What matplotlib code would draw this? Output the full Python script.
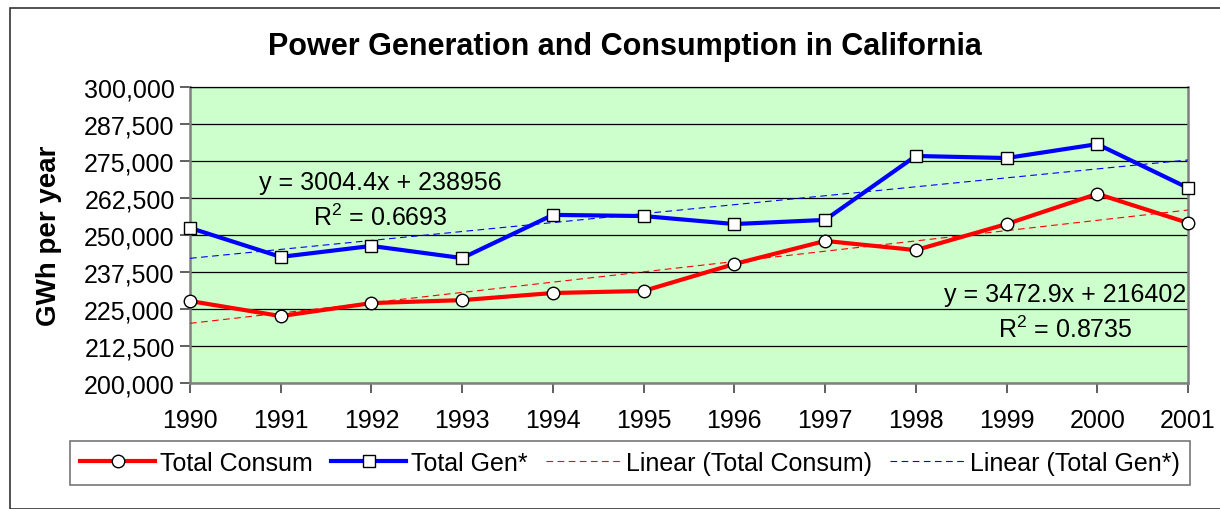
import matplotlib
matplotlib.use("Agg")
import matplotlib.pyplot as plt
import numpy as np
from matplotlib.patches import Rectangle
from matplotlib.ticker import FuncFormatter

years = [1990, 1991, 1992, 1993, 1994, 1995, 1996, 1997, 1998, 1999, 2000, 2001]
total_consum = [227700, 222600, 227000, 228000, 230400, 231100, 240200, 248000, 244900, 253700, 263900, 254100]
total_gen = [252400, 242600, 246300, 242200, 256800, 256400, 253700, 255100, 276700, 276000, 280700, 265900]
yticks = [200000, 212500, 225000, 237500, 250000, 262500, 275000, 287500, 300000]
title = "Power Generation and Consumption in California"
ylabel = "GWh per year"
eq_gen = "y = 3004.4x + 238956"
r2_gen = "R$^2$ = 0.6693"
eq_con = "y = 3472.9x + 216402"
r2_con = "R$^2$ = 0.8735"

plt.rcParams['font.family'] = ['Liberation Sans', 'DejaVu Sans']
plt.rcParams['mathtext.fontset'] = 'custom'
plt.rcParams['mathtext.rm'] = 'Liberation Sans'

fig = plt.figure(figsize=(12.2, 5.1), dpi=100)
fig.patches.append(Rectangle((10/1220, 0), 1.2, 1 - 9/510, transform=fig.transFigure,
                             fill=False, edgecolor='#333333', linewidth=1.2, zorder=0))

ax = fig.add_axes([190/1220, 1 - 384/510, 998/1220, 296/510])
ax.set_facecolor('#CCFFCC')

x = np.array(years)
idx = np.arange(1, len(years) + 1)

# trendlines (Excel-style, x = 1..n)
pc = np.polyfit(idx, total_consum, 1)
pg = np.polyfit(idx, total_gen, 1)

ax.plot(x, total_consum, color='#FF0000', lw=3, marker='o', ms=9, mfc='white',
        mec='black', mew=1.0, clip_on=False, zorder=5, label='Total Consum')
ax.plot(x, total_gen, color='#0000FF', lw=3, marker='s', ms=8.5, mfc='white',
        mec='black', mew=1.0, clip_on=False, zorder=5, label='Total Gen*')
ax.plot(x, np.polyval(pc, idx), color='#FF0000', lw=0.8, ls=(0, (6, 4)),
        label='Linear (Total Consum)', zorder=4)
ax.plot(x, np.polyval(pg, idx), color='#0000FF', lw=0.8, ls=(0, (6, 4)),
        label='Linear (Total Gen*)', zorder=4)

ax.set_xlim(1990, 2001)
ax.set_ylim(200000, 300000)
ax.set_xticks(years)
ax.set_yticks(yticks)
ax.yaxis.set_major_formatter(FuncFormatter(lambda v, p: f"{int(v):,}"))
ax.tick_params(axis='both', labelsize=18, direction='out', length=7, width=1.2, color='#444444')
ax.tick_params(axis='x', pad=11)
ax.tick_params(axis='y', pad=4)
ax.grid(axis='y', color='black', lw=0.9)
ax.set_axisbelow(True)
for s in ['left', 'bottom', 'right']:
    ax.spines[s].set_color('#808080')
    ax.spines[s].set_linewidth(1.8)
ax.spines['top'].set_color('black')
ax.spines['top'].set_linewidth(0.9)

fig.text(49/1220, 1 - 236/510, ylabel, fontsize=20, fontweight='bold', rotation=90,
         ha='center', va='center')
fig.text(625/1220, 1 - 47/510, title, fontsize=22, fontweight='bold', ha='center', va='center')

ax.text(380/1220, 1 - 183/510, eq_gen, transform=fig.transFigure, fontsize=18, ha='center', va='center')
ax.text(380/1220, 1 - 218/510, r2_gen, transform=fig.transFigure, fontsize=18, ha='center', va='center')
ax.text(1065/1220, 1 - 295/510, eq_con, transform=fig.transFigure, fontsize=18, ha='center', va='center')
ax.text(1065/1220, 1 - 330/510, r2_con, transform=fig.transFigure, fontsize=18, ha='center', va='center')

leg = fig.legend(loc='center', bbox_to_anchor=(70/1220, 1 - 486/510, 1120/1220, 44/510),
                 mode='expand', ncol=4, fontsize=18, frameon=True, fancybox=False,
                 edgecolor='#555555', handlelength=3.0, handletextpad=0.2, columnspacing=0.4,
                 borderaxespad=0)
leg.get_frame().set_linewidth(1.2)

fig.savefig('out.png', dpi=100)
